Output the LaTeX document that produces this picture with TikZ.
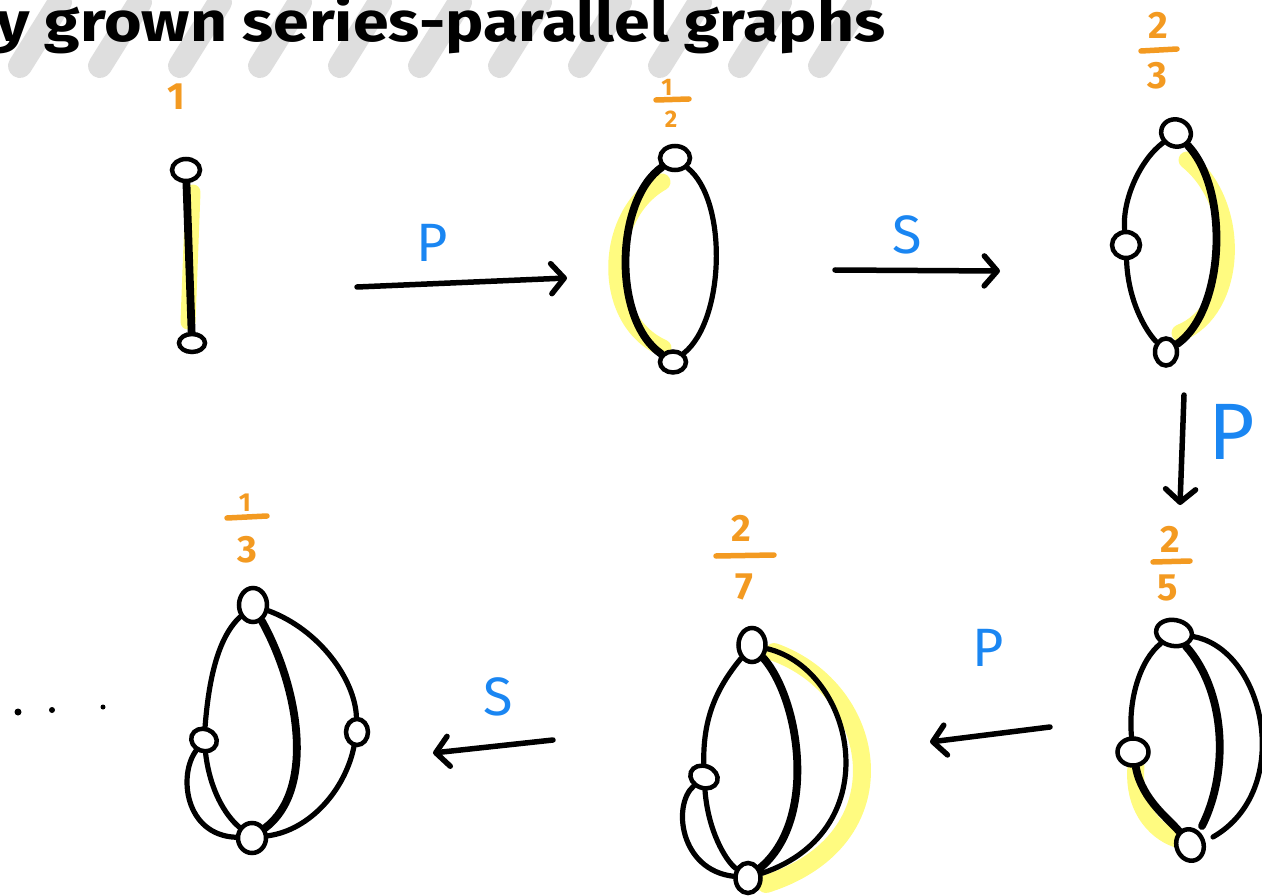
\documentclass[tikz,border=0pt]{standalone}
\usepackage{fontspec}
\setmainfont{Fira Sans}
\usetikzlibrary{shapes.geometric,arrows.meta}
\pgfdeclarelayer{bg}\pgfdeclarelayer{mid}
\pgfsetlayers{bg,mid,main}
\definecolor{ora}{HTML}{F39A21}
\definecolor{blu}{HTML}{1A86F2}
\definecolor{hil}{HTML}{FFFB80}
\definecolor{gry}{HTML}{DEDEDE}
\tikzset{
 vert/.style={ellipse, draw, fill=white, line width=4.5pt, inner sep=0pt},
 gedge/.style={line width=5.2pt, line cap=round},
 gthick/.style={line width=7.8pt, line cap=round},
 hlite/.style={hil, line width=17pt, line cap=round},
 arr/.style={line width=5.5pt, line cap=round, -{Straight Barb[length=13pt,width=30pt,round]}},
 lbl/.style={text=blu, font=\fontsize{54}{54}\selectfont, inner sep=0pt},
 dig/.style={text=ora, font=\fontsize{38}{38}\selectfont\bfseries, inner sep=0pt},
 sdig/.style={text=ora, font=\fontsize{24}{24}\selectfont\bfseries, inner sep=0pt},
 fbar/.style={ora, line width=5.5pt, line cap=round},
 gstroke/.style={gry, line width=24pt, line cap=round},
}
\begin{document}
\begin{tikzpicture}[x=1pt,y=-1pt]
\useasboundingbox (0,0) rectangle (1262,896);
% title
\begin{pgfonlayer}{bg}
\foreach \x in {20,100,180,260,340,420,500,580,660,740,820}
  \draw[gstroke] (\x,66) -- (\x+40,2);
\end{pgfonlayer}
\node[anchor=base west, inner sep=0pt, font=\fontsize{56}{56}\selectfont\bfseries] (title) at (-4,42) {\scalebox{1.15}[1]{y grown series-parallel graphs}};

% ---------- graph 1
\node[dig] (f1) at (176,97) {1};
\node[vert, minimum width=28pt, minimum height=22pt] (a1) at (186,170) {};
\node[vert, minimum width=26pt, minimum height=18pt] (b1) at (192,343) {};
\begin{pgfonlayer}{bg}
\draw[hlite, line width=15pt] (193,192) -- (188,322);
\end{pgfonlayer}
\begin{pgfonlayer}{mid}
\draw[gthick] (a1) -- (b1);
\end{pgfonlayer}

% arrow P
\coordinate (p1s) at (357,287);
\coordinate (p1e) at (567,278);
\draw[arr] (p1s) -- (p1e);
\node[lbl] (P1) at (432,243) {P};

% ---------- graph 2
\node[sdig] (f2n) at (667,87) {1};
\draw[fbar] (656,100) -- (689,99);
\node[sdig] (f2d) at (671,119) {2};
\node[vert, minimum width=30pt, minimum height=24pt] (a2) at (675,158) {};
\node[vert, minimum width=26pt, minimum height=21pt] (b2) at (673,362) {};
\begin{pgfonlayer}{bg}
\draw[hlite] (662,182) .. controls (603,215) and (600,320) .. (663,348);
\end{pgfonlayer}
\begin{pgfonlayer}{mid}
\draw[gthick] (a2) .. controls (615,200) and (612,320) .. (b2);
\draw[gedge] (a2) .. controls (728,200) and (725,320) .. (b2);
\end{pgfonlayer}

% arrow S
\coordinate (s1s) at (835,270);
\coordinate (s1e) at (1000,271);
\draw[arr] (s1s) -- (s1e);
\node[lbl] (S1) at (907,235) {S};

% ---------- graph 3
\node[dig] (f3n) at (1158,25) {2};
\draw[fbar] (1141,51) -- (1177,49);
\node[dig] (f3d) at (1157,76) {3};
\node[vert, minimum width=30pt, minimum height=27pt, rotate=-20] (a3) at (1176,133) {};
\node[vert, minimum width=28pt, minimum height=26pt] (c3) at (1126,245) {};
\node[vert, minimum width=22pt, minimum height=27pt] (b3) at (1166,352) {};
\begin{pgfonlayer}{bg}
\draw[hlite] (1187,160) .. controls (1243,205) and (1238,310) .. (1180,333);
\end{pgfonlayer}
\begin{pgfonlayer}{mid}
\draw[gedge] (a3) .. controls (1140,160) and (1122,200) .. (c3);
\draw[gedge] (c3) .. controls (1128,300) and (1145,330) .. (b3);
\draw[gthick] (a3) .. controls (1230,190) and (1225,310) .. (b3);
\end{pgfonlayer}

% arrow P down
\coordinate (p2s) at (1184,395);
\coordinate (p2e) at (1180,505);
\draw[arr] (p2s) -- (p2e);
\node[lbl, font=\fontsize{80}{80}\selectfont] (P2) at (1232,432) {P};

% ---------- graph 4
\node[dig] (f4n) at (1170,539) {2};
\draw[fbar] (1153,562) -- (1190,561);
\node[dig] (f4d) at (1168,588) {5};
\node[vert, minimum width=36pt, minimum height=26pt, rotate=-10] (a4) at (1174,633) {};
\node[vert, minimum width=31pt, minimum height=27pt] (c4) at (1133,752) {};
\node[vert, minimum width=27pt, minimum height=32pt, rotate=20] (b4) at (1190,845) {};
\coordinate (e4) at (1202,826);
\coordinate (g4) at (1213,837);
\begin{pgfonlayer}{bg}
\draw[hlite] (1136,766) .. controls (1132,812) and (1160,835) .. (1180,840);
\end{pgfonlayer}
\begin{pgfonlayer}{mid}
\draw[gedge] (a4) .. controls (1140,660) and (1128,700) .. (c4);
\draw[gthick] (c4) .. controls (1142,800) and (1170,820) .. (b4);
\draw[gthick] (a4) .. controls (1225,690) and (1230,770) .. (e4);
\draw[gedge] (a4) .. controls (1265,650) and (1295,790) .. (g4);
\end{pgfonlayer}

% arrow P left
\coordinate (p3s) at (1050,727);
\coordinate (p3e) at (930,742);
\draw[arr] (p3s) -- (p3e);
\node[lbl] (P3) at (988,648) {P};

% ---------- graph 5
\node[dig] (f5n) at (741,528) {2};
\draw[fbar] (716,556) -- (774,555);
\node[dig] (f5d) at (744,587) {7};
\node[vert, minimum width=27pt, minimum height=34pt] (a5) at (752,645) {};
\node[vert, minimum width=28pt, minimum height=22pt, rotate=-20] (c5) at (704,777) {};
\node[vert, minimum width=25pt, minimum height=30pt] (b5) at (748,878) {};
\begin{pgfonlayer}{bg}
\draw[hlite, line width=18pt] (774,652) .. controls (880,690) and (905,840) .. (766,884);
\end{pgfonlayer}
\begin{pgfonlayer}{mid}
\draw[gedge] (a5) .. controls (715,690) and (703,720) .. (c5);
\draw[gedge] (c5) .. controls (708,830) and (725,860) .. (b5);
\draw[gedge] (c5) .. controls (672,805) and (680,870) .. (b5);
\draw[gthick] (a5) .. controls (800,700) and (818,820) .. (b5);
\draw[gedge] (a5) .. controls (855,670) and (890,830) .. (b5);
\end{pgfonlayer}

% arrow S left
\coordinate (s2s) at (553,740);
\coordinate (s2e) at (433,753);
\draw[arr] (s2s) -- (s2e);
\node[lbl] (S2) at (498,697) {S};

% ---------- graph 6
\node[sdig, font=\fontsize{26}{26}\selectfont\bfseries] (f6n) at (245,503) {1};
\draw[fbar] (227,518) -- (267,516);
\node[dig] (f6d) at (247,550) {3};
\node[vert, minimum width=28pt, minimum height=34pt] (a6) at (253,605) {};
\node[vert, minimum width=26pt, minimum height=22pt, rotate=-20] (c6) at (204,740) {};
\node[vert, minimum width=22pt, minimum height=26pt] (d6) at (357,732) {};
\node[vert, minimum width=28pt, minimum height=30pt] (b6) at (252,838) {};
\begin{pgfonlayer}{mid}
\draw[gedge] (a6) .. controls (215,640) and (208,690) .. (c6);
\draw[gedge] (c6) .. controls (210,790) and (225,815) .. (b6);
\draw[gedge] (c6) .. controls (178,775) and (185,835) .. (b6);
\draw[gthick] (a6) .. controls (300,690) and (315,790) .. (b6);
\draw[gedge] (a6) .. controls (320,630) and (355,680) .. (d6);
\draw[gedge] (d6) .. controls (345,790) and (310,830) .. (b6);
\end{pgfonlayer}

% dots
\fill (18,712) circle (3.5pt);
\fill (52,710) circle (3pt);
\fill (103,707) circle (2.5pt);
\end{tikzpicture}
\end{document}
